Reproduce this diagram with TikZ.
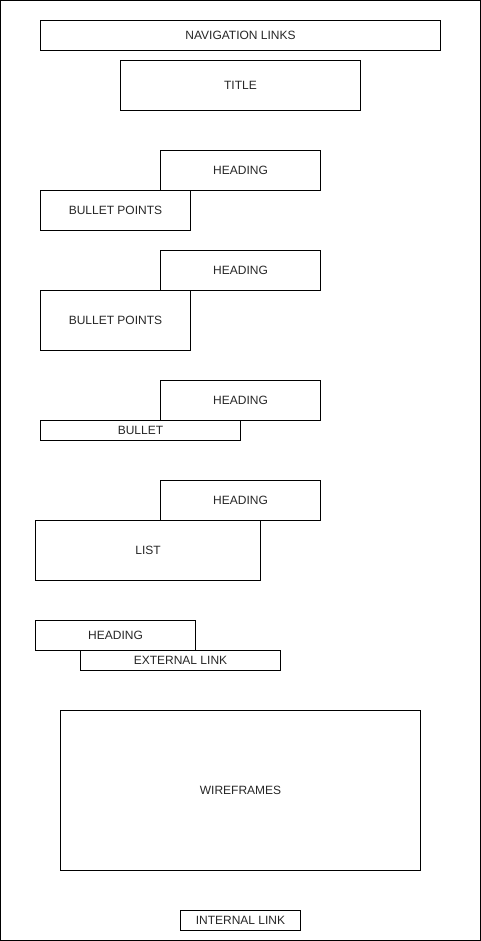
\documentclass[tikz,border=0pt]{standalone}
\usepackage{fontspec}
\setmainfont{Liberation Sans}
\usetikzlibrary{positioning}

\tikzset{
  box/.style={draw, line width=1pt, anchor=north west, inner sep=0pt,
    font=\fontsize{12}{14}\selectfont, text=black!85},
}

\begin{document}
\begin{tikzpicture}[x=1pt,y=-1pt]
  \useasboundingbox (0,0) rectangle (481,941);
  \draw[line width=1pt] (0.5,0.5) rectangle (480.5,940.5);
  \node[box, minimum width=400, minimum height=30] (nav) at (40,20) {NAVIGATION LINKS};
  \node[box, minimum width=240, minimum height=50] (title) at (120,60) {TITLE};
  % first section
  \node[box, minimum width=160, minimum height=40] (head1) at (160,150) {HEADING};
  \node[box, minimum width=150, minimum height=40] (bul1) at (40,190) {BULLET POINTS};
  % second section
  \node[box, minimum width=160, minimum height=40] (head2) at (160,250) {HEADING};
  \node[box, minimum width=150, minimum height=60] (bul2) at (40,290) {BULLET POINTS};
  % third section
  \node[box, minimum width=160, minimum height=40] (head3) at (160,380) {HEADING};
  \node[box, minimum width=200, minimum height=20] (bul3) at (40,420) {BULLET};
  % fourth section
  \node[box, minimum width=160, minimum height=40] (head4) at (160,480) {HEADING};
  \node[box, minimum width=225, minimum height=60] (list) at (35,520) {LIST};
  % links
  \node[box, minimum width=160, minimum height=30] (head5) at (35,620) {HEADING};
  \node[box, minimum width=200, minimum height=20] (extlink) at (80,650) {EXTERNAL LINK};
  \node[box, minimum width=360, minimum height=160] (wire) at (60,710) {WIREFRAMES};
  \node[box, minimum width=120, minimum height=20] (intlink) at (180,910) {INTERNAL LINK};
\end{tikzpicture}
\end{document}
